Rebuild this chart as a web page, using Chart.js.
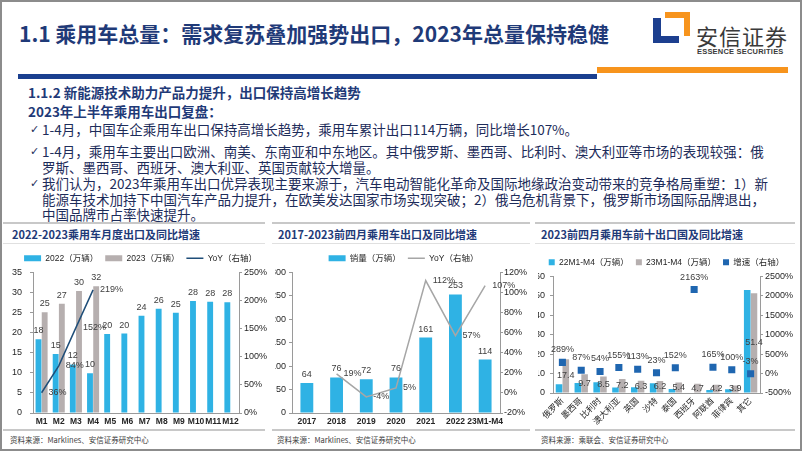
<!DOCTYPE html>
<html>
<head>
<meta charset="utf-8">
<script src="https://cdn.jsdelivr.net/npm/chart.js@4.4.1/dist/chart.umd.min.js"></script>
<style>
  body { margin: 0; width: 802px; height: 451px; position: relative; overflow: hidden; background: #fff;
         font-family: "Noto Sans CJK SC", "Liberation Sans", sans-serif; }
  .abs { position: absolute; }
  .frame { left: 0; top: 0; width: 798px; height: 447px; border: 2px solid #8c8c8c; }
  .title { left: 19px; top: 19px; font-size: 21px; line-height: 28px; font-weight: 700; color: #1f3a78; white-space: nowrap; }
  .sub { left: 28px; font-size: 13.5px; line-height: 18px; font-weight: 700; color: #1f3a78; white-space: nowrap; }
  .bullet { left: 42px; font-size: 13.5px; line-height: 15.5px; color: #1d2c5a; white-space: nowrap; }
  .bullet::before { content: "\2713"; position: absolute; left: -12px; top: 0; font-family: "DejaVu Sans"; font-size: 11px; }
  .ptitle { font-size: 11px; font-weight: 700; color: #1f3a78; white-space: nowrap; line-height: 16px; }
  .hline { height: 2px; background: #c8c8c8; }
  .src { font-size: 7.5px; color: #404040; white-space: nowrap; line-height: 12px; }
</style>
</head>
<body>
<div class="abs frame"></div>
<div class="abs title">1.1 乘用车总量：需求复苏叠加强势出口，2023年总量保持稳健</div>

<!-- logo -->
<div class="abs" style="left:665px;top:12px;width:25px;height:24px;background:#f7941d;"></div>
<div class="abs" style="left:665px;top:18px;width:19px;height:18px;background:#fff;"></div>
<div class="abs" style="left:653px;top:18px;width:26px;height:25px;background:#1d3f8f;"></div>
<div class="abs" style="left:661px;top:18px;width:18px;height:18px;background:#fff;"></div>
<div class="abs" style="left:696px;top:21px;font-size:22px;line-height:28px;color:#3a3a3a;letter-spacing:1px;">安信证券</div>
<div class="abs" style="left:697px;top:47px;font-size:7.5px;line-height:9px;font-weight:700;color:#3a3a3a;font-family:'Liberation Sans Narrow','Liberation Sans';letter-spacing:0.2px;">ESSENCE SECURITIES</div>

<div class="abs" style="left:18px;top:74px;width:579px;height:5px;background:#1a3f8f;"></div>
<div class="abs" style="left:597px;top:67px;width:191px;height:6px;background:#f7941d;"></div>

<div class="abs sub" style="top:83px;">1.1.2 新能源技术助力产品力提升，出口保持高增长趋势</div>
<div class="abs sub" style="top:102px;">2023年上半年乘用车出口复盘：</div>
<div class="abs bullet" style="top:122px;">1-4月，中国车企乘用车出口保持高增长趋势，乘用车累计出口114万辆，同比增长107%。</div>
<div class="abs bullet" style="top:144px;">1-4月，乘用车主要出口欧洲、南美、东南亚和中东地区。其中俄罗斯、墨西哥、比利时、澳大利亚等市场的表现较强：俄<br>罗斯、墨西哥、西班牙、澳大利亚、英国贡献较大增量。</div>
<div class="abs bullet" style="top:176px;">我们认为，2023年乘用车出口优异表现主要来源于，汽车电动智能化革命及国际地缘政治变动带来的竞争格局重塑：1）新<br>能源车技术加持下中国汽车产品力提升，在欧美发达国家市场实现突破；2）俄乌危机背景下，俄罗斯市场国际品牌退出，<br>中国品牌市占率快速提升。</div>

<!-- panel frames -->
<div class="abs hline" style="left:3px;top:222px;width:262px;"></div>
<div class="abs hline" style="left:272px;top:222px;width:258px;"></div>
<div class="abs hline" style="left:535px;top:222px;width:260px;"></div>
<div class="abs ptitle" style="left:12px;top:226px;">2022-2023乘用车月度出口及同比增速</div>
<div class="abs ptitle" style="left:278px;top:226px;">2017-2023前四月乘用车出口及同比增速</div>
<div class="abs ptitle" style="left:541px;top:226px;">2023前四月乘用车前十出口国及同比增速</div>
<div class="abs hline" style="left:3px;top:243px;width:262px;height:1px;background:#e0e0e0;"></div>
<div class="abs hline" style="left:272px;top:243px;width:258px;height:1px;background:#e0e0e0;"></div>
<div class="abs hline" style="left:535px;top:243px;width:260px;height:1px;background:#e0e0e0;"></div>
<div class="abs hline" style="left:3px;top:429px;width:262px;"></div>
<div class="abs hline" style="left:272px;top:429px;width:258px;"></div>
<div class="abs hline" style="left:535px;top:429px;width:260px;"></div>
<div class="abs src" style="left:10px;top:434px;">资料来源：Marklines、安信证券研究中心</div>
<div class="abs src" style="left:277px;top:434px;">资料来源：Marklines、安信证券研究中心</div>
<div class="abs src" style="left:541px;top:434px;">资料来源：乘联会、安信证券研究中心</div>

<canvas id="c1" class="abs" style="left:12px;top:247px;" width="257" height="182"></canvas>
<canvas id="c2" class="abs" style="left:275px;top:247px;" width="257" height="182"></canvas>
<canvas id="c3" class="abs" style="left:538px;top:251px;" width="257" height="182"></canvas>

<script>
// chart 1: monthly exports 2022 vs 2023
const months = ['M1','M2','M3','M4','M5','M6','M7','M8','M9','M10','M11','M12'];
const exp2022 = [18.4, 14.7, 12.1, 9.9, 19.7, 19.8, 24.2, 26.0, 25.0, 27.9, 27.7, 27.6];
const exp2023 = [25.1, 27.2, 30.4, 31.6, null, null, null, null, null, null, null, null];
const yoyMonthly = [36, 84, 152, 219, null, null, null, null, null, null, null, null];

// chart 2: Jan-Apr exports by year
const years = ['2017','2018','2019','2020','2021','2022','23M1-M4'];
const salesJanApr = [64, 76, 72, 76, 161, 253, 114];
const yoyJanApr = [null, 19, -4, 5, 112, 57, 107];

// chart 3: top ten destinations
const countries = ['俄罗斯','墨西哥','比利时','澳大利亚','英国','沙特','泰国','西班牙','阿联酋','菲律宾','其它'];
const dest22 = [4.5, 5.2, 5.5, 2.8, 3.0, 5.0, 2.1, 0.2, 1.6, 1.9, 53.0];
const dest23 = [17.4, 9.7, 8.5, 7.2, 6.3, 6.2, 5.4, 4.7, 4.2, 3.9, 51.4];
const destGrowth = [289, 87, 54, 155, 113, 23, 152, 2163, 165, 100, -3];

const CYAN = '#2fb2e4';
const GREY = '#b6afaf';
const AXIS = '#9a9a9a';
const FONT = "'Liberation Sans', 'Noto Sans CJK SC', sans-serif";
const NARROW = "'Liberation Sans Narrow', 'Liberation Sans', sans-serif";

Chart.defaults.font.family = FONT;
Chart.defaults.font.size = 9;
Chart.defaults.color = '#262626';
Chart.defaults.animation = false;

// draws the value labels (no datalabels plugin offline)
const valueLabels = {
  id: 'valueLabels',
  afterDatasetsDraw(chart) {
    const ctx = chart.ctx;
    ctx.save();
    ctx.font = '9px ' + FONT;
    ctx.fillStyle = '#404040';
    chart.data.datasets.forEach((ds, i) => {
      if (!ds.labelPos) return;
      const meta = chart.getDatasetMeta(i);
      meta.data.forEach((el, j) => {
        const v = ds.data[j];
        if (v === null || v === undefined) return;
        const text = ds.labelFmt ? ds.labelFmt(v) : String(v);
        let x = el.x, y = el.y;
        if (ds.labelPos === 'top') {
          ctx.textAlign = 'center'; ctx.textBaseline = 'bottom'; y -= 4;
        } else if (ds.labelPos === 'center') {
          ctx.textAlign = 'center'; ctx.textBaseline = 'middle'; y = (el.y + el.base) / 2;
        } else if (ds.labelPos === 'right') {
          ctx.textAlign = 'left'; ctx.textBaseline = 'middle'; x += 7;
        } else if (ds.labelPos === 'above') {
          ctx.textAlign = 'center'; ctx.textBaseline = 'bottom'; y -= 8;
        }
        ctx.fillText(text, x, y);
      });
    });
    ctx.restore();
  }
};

function fixWidth(w) { return (scale) => { scale.width = w; }; }
function fixHeight(h) { return (scale) => { scale.height = h; }; }

function legendOpts(pw) {
  return {
    position: 'top',
    labels: {
      usePointStyle: true, pointStyleWidth: pw, boxHeight: 6, padding: 7,
      font: { size: 8.5, family: FONT }, color: '#262626',
      sort: (a, b) => a.datasetIndex - b.datasetIndex
    }
  };
}

function yAxis(pos, min, max, step, width, pad, fmt) {
  return {
    position: pos, min: min, max: max,
    afterFit: fixWidth(width),
    grid: { display: true, drawOnChartArea: false, drawTicks: true, tickLength: 3, color: AXIS },
    border: { color: AXIS },
    ticks: { stepSize: step, padding: pad, callback: fmt || ((v) => v) }
  };
}

function xAxis(h, tickOpts) {
  return {
    afterFit: fixHeight(h),
    grid: { display: false, drawTicks: false },
    border: { color: AXIS },
    ticks: Object.assign({ autoSkip: false }, tickOpts)
  };
}

new Chart(document.getElementById('c1'), {
  type: 'bar',
  data: {
    labels: months,
    datasets: [
      { label: '2022（万辆）', data: exp2022, backgroundColor: CYAN, pointStyle: 'rect', order: 1,
        categoryPercentage: 0.72, barPercentage: 0.95, labelPos: 'top', labelFmt: (v) => Math.round(v) },
      { label: '2023（万辆）', data: exp2023, backgroundColor: GREY, pointStyle: 'rect', order: 1,
        categoryPercentage: 0.72, barPercentage: 0.95, labelPos: 'top', labelFmt: (v) => Math.round(v) },
      { type: 'line', label: 'YoY（右轴）', data: yoyMonthly, yAxisID: 'y1', borderColor: '#1f4e79',
        backgroundColor: '#1f4e79', borderWidth: 1.5, pointRadius: 0, pointStyle: 'line', order: 0,
        labelPos: 'right', labelFmt: (v) => v + '%' }
    ]
  },
  options: {
    responsive: false,
    layout: { padding: 0 },
    plugins: { legend: legendOpts(17), tooltip: { enabled: false } },
    scales: {
      x: xAxis(16, { font: { weight: 'bold', size: 8.5, family: NARROW }, padding: 4, maxRotation: 0 }),
      y: yAxis('left', 0, 35, 5, 21, 8),
      y1: yAxis('right', 0, 250, 50, 30, 2, (v) => v + '%')
    }
  },
  plugins: [valueLabels]
});

new Chart(document.getElementById('c2'), {
  type: 'bar',
  data: {
    labels: years,
    datasets: [
      { label: '销量（万辆）', data: salesJanApr, backgroundColor: CYAN, pointStyle: 'rect', order: 1,
        categoryPercentage: 0.48, barPercentage: 0.9, labelPos: 'top' },
      { type: 'line', label: 'YoY（右轴）', data: yoyJanApr, yAxisID: 'y1', borderColor: '#a6a6a6',
        backgroundColor: '#a6a6a6', borderWidth: 1.5, pointRadius: 0, pointStyle: 'line', order: 0,
        labelPos: 'right', labelFmt: (v) => v + '%' }
    ]
  },
  options: {
    responsive: false,
    layout: { padding: 0 },
    plugins: { legend: legendOpts(17), tooltip: { enabled: false } },
    scales: {
      x: xAxis(16, { font: { weight: 'bold', size: 8.5, family: NARROW }, padding: 4, maxRotation: 0 }),
      y: yAxis('left', 0, 300, 50, 17, 3),
      y1: yAxis('right', -20, 120, 20, 32, 1, (v) => v + '%')
    }
  },
  plugins: [valueLabels]
});

new Chart(document.getElementById('c3'), {
  type: 'bar',
  data: {
    labels: countries,
    datasets: [
      { label: '22M1-M4（万辆）', data: dest22, backgroundColor: CYAN, pointStyle: 'rect', order: 1,
        categoryPercentage: 0.72, barPercentage: 0.97 },
      { label: '23M1-M4（万辆）', data: dest23, backgroundColor: GREY, pointStyle: 'rect', order: 1,
        categoryPercentage: 0.72, barPercentage: 0.97, labelPos: 'center', labelFmt: (v) => v.toFixed(1) },
      { type: 'line', label: '增速（右轴）', data: destGrowth, yAxisID: 'y1', showLine: false,
        backgroundColor: '#1f66b0', borderColor: '#1f66b0', borderWidth: 0, pointStyle: 'rect',
        pointRadius: 5, order: 0, labelPos: 'above', labelFmt: (v) => v + '%' }
    ]
  },
  options: {
    responsive: false,
    layout: { padding: 0 },
    plugins: { legend: legendOpts(6), tooltip: { enabled: false } },
    scales: {
      x: xAxis(40, { font: { size: 8.5 }, padding: 3, minRotation: 45, maxRotation: 45 }),
      y: yAxis('left', 0, 60, 10, 15, 5),
      y1: yAxis('right', -500, 2500, 500, 35, 2, (v) => v + '%')
    }
  },
  plugins: [valueLabels]
});
</script>
</body>
</html>
